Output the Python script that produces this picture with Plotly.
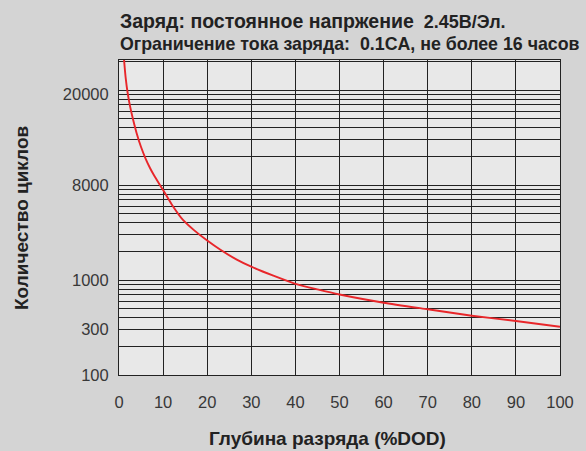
import plotly.graph_objects as go
import numpy as np

# Depth of discharge (%DOD) and cycle life
dod = [1, 1.5, 2, 2.5, 3, 4, 5, 6, 7, 8, 9, 10, 12, 14.5, 17, 20, 23, 26.6, 30, 35,
       40, 45, 50, 60, 70, 80, 90, 100]
cycles = [250000, 136000, 90800, 67600, 53200, 35100, 25100, 19100, 15200, 12500, 10500,
          8850, 6200, 4290, 3350, 2600, 2080, 1650, 1380, 1110, 912, 796, 703, 577, 492,
          421, 370, 322]

# y tick labels as printed on the chart (positions on the log axis)
y_label_vals = [100, 300, 1000, 10000, 90000]
y_label_text = ["100", "300", "1000", "8000", "20000"]
x_ticks = [0, 10, 20, 30, 40, 50, 60, 70, 80, 90, 100]

NB = "\u00a0"
title1a = "Заряд: постоянное напржение"
title1b = "2.45В/Эл."
title2a = "Ограничение тока заряда:"
title2b = "0.1CA, не более 16 часов"
x_title = "Глубина разряда (%DOD)"
y_title = "Количество циклов"

# gridlines at every 1..9 x decade
grid_vals = [m * 10 ** e for e in range(2, 6) for m in range(1, 10)]
grid_text = [y_label_text[y_label_vals.index(v)] if v in y_label_vals else "" for v in grid_vals]

fig = go.Figure()
fig.add_trace(go.Scatter(x=dod, y=cycles, mode="lines",
                         line=dict(color="#e8262a", width=1.9, shape="spline", smoothing=0.6),
                         showlegend=False))

W, H = 586, 451
l, r, t, b = 119, 26, 60, 76
pw, ph = W - l - r, H - t - b


def px(x):
    return (x - l) / pw


def py(y):
    return (H - b - y) / ph


t1 = ("<b><span style='font-size:19.5px'>" + title1a + "</span>" + NB * 2 + title1b + "</b>")
t2 = "<b>" + title2a + NB * 2 + title2b + "</b>"

font_family = "Liberation Sans, Arial, sans-serif"
fig.update_layout(
    width=W, height=H,
    margin=dict(l=l, r=r, t=t, b=b, pad=0),
    paper_bgcolor="#d4d4d4",
    plot_bgcolor="#e8e8e8",
    font=dict(family=font_family, size=16.5, color="#383838"),
    xaxis=dict(range=[0, 100], tickvals=x_ticks, showgrid=True, gridcolor="#222222",
               gridwidth=1, zeroline=False, showline=True, linecolor="#222222", linewidth=1,
               mirror=True, ticks="outside", ticklen=12, tickcolor="#d4d4d4",
               tickfont=dict(size=16.5, color="#383838")),
    yaxis=dict(type="log", range=[2, np.log10(207000)], tickmode="array",
               tickvals=grid_vals, ticktext=grid_text, showgrid=True, gridcolor="#222222",
               gridwidth=1, zeroline=False, showline=True, linecolor="#222222", linewidth=1,
               mirror=True, ticks="outside", ticklen=6, tickcolor="#d4d4d4",
               tickfont=dict(size=16.5, color="#383838")),
    annotations=[
        dict(text=t1, x=px(118), y=py(21), xref="paper", yref="paper",
             showarrow=False, xanchor="left", yanchor="middle",
             font=dict(size=18, color="#222222")),
        dict(text=t2, x=px(118), y=py(44), xref="paper", yref="paper",
             showarrow=False, xanchor="left", yanchor="middle",
             font=dict(size=17.8, color="#222222")),
        dict(text="<b>" + x_title + "</b>", x=px(327), y=py(438), xref="paper", yref="paper",
             showarrow=False, xanchor="center", yanchor="middle",
             font=dict(size=19, color="#222222")),
        dict(text="<b>" + y_title + "</b>", x=px(21), y=py(218), xref="paper", yref="paper",
             showarrow=False, textangle=-90, xanchor="center", yanchor="middle",
             font=dict(size=19, color="#222222")),
    ],
)

fig.write_html("out.html", config={"displayModeBar": False},
               post_script="document.body.style.margin='0';document.body.style.overflow='hidden';")
